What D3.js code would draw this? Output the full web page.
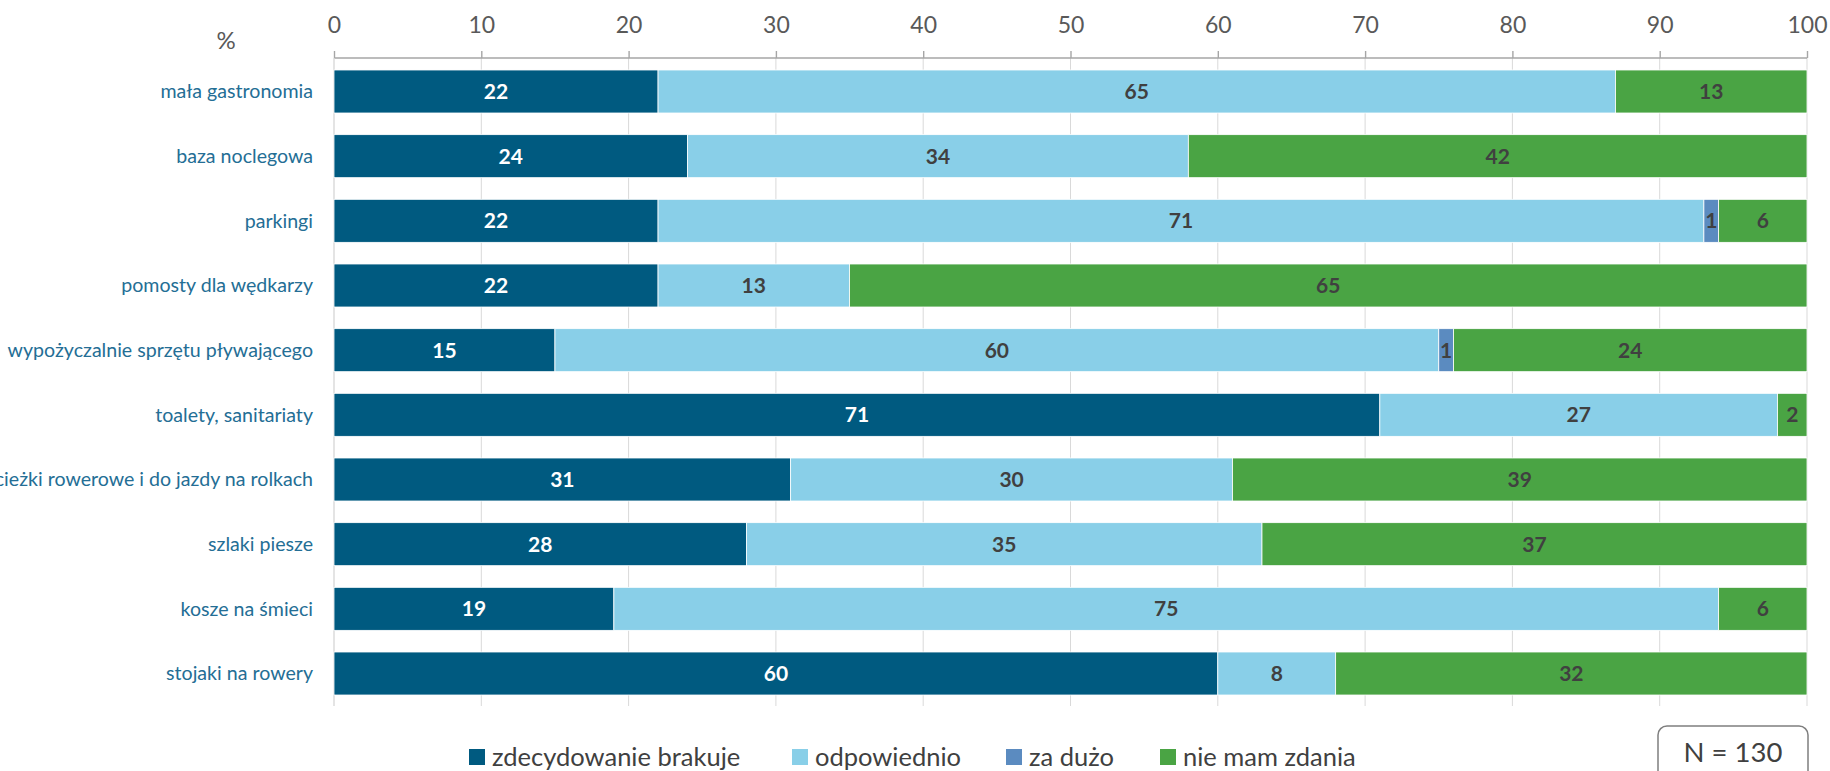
<!DOCTYPE html>
<html>
<head>
<meta charset="utf-8">
<script src="https://cdn.jsdelivr.net/npm/d3@7"></script>
<style>
  html, body { margin: 0; padding: 0; background: #fff; }
  svg { display: block; }
</style>
</head>
<body>
<svg id="chart" width="1830" height="771"></svg>
<script>
// Survey categories (top to bottom)
const categories = [
  "mała gastronomia",
  "baza noclegowa",
  "parkingi",
  "pomosty dla wędkarzy",
  "wypożyczalnie sprzętu pływającego",
  "toalety, sanitariaty ",
  "ścieżki rowerowe i do jazdy na rolkach",
  "szlaki piesze",
  "kosze na śmieci",
  "stojaki na rowery"
];

// Answer series, percent of respondents
const seriesNames = ["zdecydowanie brakuje", "odpowiednio", "za dużo", "nie mam zdania"];
const brakuje     = [22, 24, 22, 22, 15, 71, 31, 28, 19, 60];
const odpowiednio = [65, 34, 71, 13, 60, 27, 30, 35, 75, 8];
const zaDuzo      = [0, 0, 1, 0, 1, 0, 0, 0, 0, 0];
const nieMam      = [13, 42, 6, 65, 24, 2, 39, 37, 6, 32];

const xTicks = [0, 10, 20, 30, 40, 50, 60, 70, 80, 90, 100];
const sampleLabel = "N = 130";

const colors = ["#005A80", "#89CFE8", "#5B8BC0", "#4AA444"];
const labelColors = ["#ffffff", "#404040", "#404040", "#404040"];

const FONT = "Lato, 'Open Sans', sans-serif";

const svg = d3.select("#chart");
const W = 1830;
const axisY = 58;
const plotBottom = 706;

const x = d3.scaleLinear().domain([0, 100]).range([334, W - 23]);
const y = d3.scaleBand().domain(categories).range([59, plotBottom]).paddingInner(0.335).paddingOuter(0.17);

const rows = categories.map((c, i) => ({
  cat: c,
  vals: [brakuje[i], odpowiednio[i], zaDuzo[i], nieMam[i]]
}));

// vertical gridlines
svg.append("g")
  .selectAll("line")
  .data(xTicks.slice(1))
  .join("line")
  .attr("x1", d => x(d)).attr("x2", d => x(d))
  .attr("y1", axisY).attr("y2", plotBottom)
  .attr("stroke", "#d9d9d9").attr("stroke-width", 1);

// top value axis
const axis = d3.axisTop(x).tickValues(xTicks).tickSize(7).tickPadding(18);
const gAxis = svg.append("g").attr("transform", `translate(0,${axisY})`).call(axis);
gAxis.select(".domain").attr("stroke", "#a6a6a6").attr("stroke-width", 1.4).attr("d", `M${x(0)},0H${x(100)}`);
gAxis.selectAll(".tick line").attr("stroke", "#a6a6a6").attr("stroke-width", 1.4);
gAxis.selectAll(".tick text")
  .attr("fill", "#595959")
  .style("font-family", FONT)
  .style("font-size", "23px");

// category axis line
svg.append("line")
  .attr("x1", x(0)).attr("x2", x(0))
  .attr("y1", axisY).attr("y2", plotBottom)
  .attr("stroke", "#d9d9d9").attr("stroke-width", 1.4);

// unit label
svg.append("text")
  .attr("x", 226).attr("y", 49)
  .attr("text-anchor", "middle")
  .attr("fill", "#595959")
  .style("font-family", FONT).style("font-size", "24px")
  .text("%");

// stacked bars with value labels
const barG = svg.append("g");
rows.forEach(r => {
  let acc = 0;
  r.vals.forEach((v, k) => {
    const x0 = acc; acc += v;
    if (v <= 0) return;
    barG.append("rect")
      .attr("x", x(x0)).attr("y", y(r.cat))
      .attr("width", x(acc) - x(x0)).attr("height", y.bandwidth())
      .attr("fill", colors[k])
      .attr("stroke", "#ffffff").attr("stroke-width", 0.8);
    barG.append("text")
      .attr("x", (x(x0) + x(acc)) / 2)
      .attr("y", y(r.cat) + y.bandwidth() / 2)
      .attr("dy", "0.36em")
      .attr("text-anchor", "middle")
      .attr("fill", labelColors[k])
      .style("font-family", FONT).style("font-size", "21px").style("font-weight", "bold")
      .text(v);
  });
});

// category labels
svg.append("g")
  .selectAll("text")
  .data(categories)
  .join("text")
  .attr("x", 313)
  .attr("y", d => y(d) + y.bandwidth() / 2)
  .attr("dy", "0.35em")
  .attr("text-anchor", "end")
  .attr("fill", "#246E95")
  .style("font-family", FONT).style("font-size", "19.6px")
  .text(d => d);

// legend
const legendX = [469, 792, 1006, 1160];
const lg = svg.append("g");
seriesNames.forEach((n, k) => {
  lg.append("rect")
    .attr("x", legendX[k]).attr("y", 749)
    .attr("width", 16).attr("height", 16)
    .attr("fill", colors[k]);
  lg.append("text")
    .attr("x", legendX[k] + 23).attr("y", 765.5)
    .attr("fill", "#404040")
    .style("font-family", FONT).style("font-size", "25.5px")
    .text(n);
});

// sample size box
svg.append("rect")
  .attr("x", 1658).attr("y", 726)
  .attr("width", 150).attr("height", 70)
  .attr("rx", 9).attr("ry", 9)
  .attr("fill", "#fff").attr("stroke", "#7f7f7f").attr("stroke-width", 1.5);
svg.append("text")
  .attr("x", 1733).attr("y", 762)
  .attr("text-anchor", "middle")
  .attr("fill", "#404040")
  .style("font-family", FONT).style("font-size", "27.5px")
  .text(sampleLabel);
</script>
</body>
</html>
